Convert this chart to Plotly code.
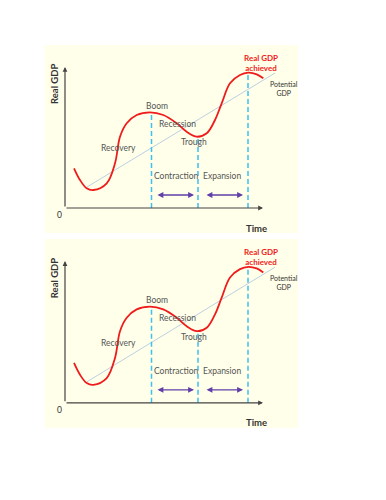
import plotly.graph_objects as go

# ---- data (arbitrary time / GDP units) ----
cycle_time = [9, 15, 21.7, 28.3, 41.7, 50, 55, 61.7, 71.7, 85, 98.3, 111.7, 121.7,
              131.7, 141.7, 150, 156.7, 165, 175, 183.3, 191.7, 198.3]
real_gdp = [39.7, 28, 19.7, 18, 24.7, 44.7, 71.3, 84.7, 93, 95.7, 93, 84.7, 76.3,
            71.3, 74.7, 88, 104.7, 124.7, 133, 135.3, 133.7, 129.7]
potential_time = [22, 210]
potential_gdp = [21, 135]
marker_times = [86.5, 133, 183]          # boom, trough, real GDP achieved
marker_levels = [95.7, 71.3, 135.3]
phase_arrows = [(91, 129), (140, 178)]   # contraction, expansion spans
arrow_level = 13
phase_labels = ["Boom", "Recession", "Trough", "Recovery", "Contraction", "Expansion"]
phase_label_pos = [(92, 102), (112, 84), (129, 66), (53, 60), (111, 32), (157, 32)]
x_axis_end = 198
y_axis_end = 141

BG = "#FFFFEA"
RED = "#EE1C1C"
DASH = "#3CC0F0"
PURPLE = "#6040A8"
POT = "#BCD0E2"
TXT = "#555555"
AXIS = "#444444"
FONT = "Lato"

# page geometry (browser body has an 8px margin)
OFF = 8
W, H = 386 - 2 * OFF, 500 - 2 * OFF


def px_x(p):
    return (p - OFF) / W


def px_y(p):
    return 1 - (p - OFF) / H


fig = go.Figure()

panels = [("x", "y", [px_y(233), px_y(45)]), ("x2", "y2", [px_y(428), px_y(239)])]
xdom = [px_x(45), px_x(298)]

annotations = []
for i, (xr, yr, ydom) in enumerate(panels):
    suffix = "" if i == 0 else "2"
    fig.add_trace(go.Scatter(x=potential_time, y=potential_gdp, mode="lines",
                             line=dict(color=POT, width=1), xaxis=xr, yaxis=yr,
                             hoverinfo="skip", showlegend=False))
    for t, lvl in zip(marker_times, marker_levels):
        fig.add_trace(go.Scatter(x=[t, t], y=[0, lvl], mode="lines",
                                 line=dict(color=DASH, width=1.5, dash="5px,3px"),
                                 xaxis=xr, yaxis=yr, hoverinfo="skip", showlegend=False))
    fig.add_trace(go.Scatter(x=cycle_time, y=real_gdp, mode="lines",
                             line=dict(color=RED, width=1.8, shape="spline", smoothing=1.0),
                             xaxis=xr, yaxis=yr, hoverinfo="skip", showlegend=False))
    annotations.append(dict(x=x_axis_end, y=0, ax=0, ay=0, xref=xr, yref=yr,
                            axref=xr, ayref=yr, text="", showarrow=True,
                            arrowhead=2, arrowsize=0.8, arrowwidth=1.2, arrowcolor=AXIS))
    annotations.append(dict(x=0, y=y_axis_end, ax=0, ay=0, xref=xr, yref=yr,
                            axref=xr, ayref=yr, text="", showarrow=True,
                            arrowhead=2, arrowsize=0.8, arrowwidth=1.2, arrowcolor=AXIS))
    for a, b in phase_arrows:
        annotations.append(dict(x=b, y=arrow_level, ax=a, ay=arrow_level, xref=xr, yref=yr,
                                axref=xr, ayref=yr, text="", showarrow=True,
                                arrowhead=2, startarrowhead=2, arrowside="end+start",
                                arrowsize=0.9, startarrowsize=0.9,
                                arrowwidth=1.3, arrowcolor=PURPLE))
    for lab, (lx, ly) in zip(phase_labels, phase_label_pos):
        annotations.append(dict(x=lx, y=ly, xref=xr, yref=yr, text=lab, showarrow=False,
                                font=dict(family=FONT, size=8.5, color=TXT)))
    annotations.append(dict(x=196, y=145, xref=xr, yref=yr,
                            text="<b>Real GDP<br>achieved</b>", showarrow=False,
                            font=dict(family=FONT, size=8, color=RED)))
    annotations.append(dict(x=219, y=120, xref=xr, yref=yr,
                            text="Potential<br>GDP", showarrow=False,
                            font=dict(family=FONT, size=7, color="#333333")))
    annotations.append(dict(x=-6, y=-7, xref=xr, yref=yr, text="0", showarrow=False,
                            font=dict(family=FONT, size=8.5, color="#333333")))
    annotations.append(dict(x=191, y=-20, xref=xr, yref=yr, text="<b>Time</b>",
                            showarrow=False, font=dict(family=FONT, size=9.5, color="#333333")))
    annotations.append(dict(x=-11, y=124, xref=xr, yref=yr, text="<b>Real GDP</b>",
                            textangle=-90, showarrow=False,
                            font=dict(family=FONT, size=9.5, color="#333333")))

    axis_common = dict(visible=False, showgrid=False, zeroline=False, fixedrange=True)
    fig.update_layout(**{
        "xaxis" + suffix: dict(domain=xdom, range=[-20, 233],
                               anchor="y" + suffix, **axis_common),
        "yaxis" + suffix: dict(domain=ydom, range=[-25, 163],
                               anchor="x" + suffix, **axis_common),
    })

fig.update_layout(
    width=W, height=H,
    margin=dict(l=0, r=0, t=0, b=0),
    paper_bgcolor="white", plot_bgcolor=BG,
    annotations=annotations,
    showlegend=False,
)

fig.write_html("out.html", config={"displayModeBar": False})
